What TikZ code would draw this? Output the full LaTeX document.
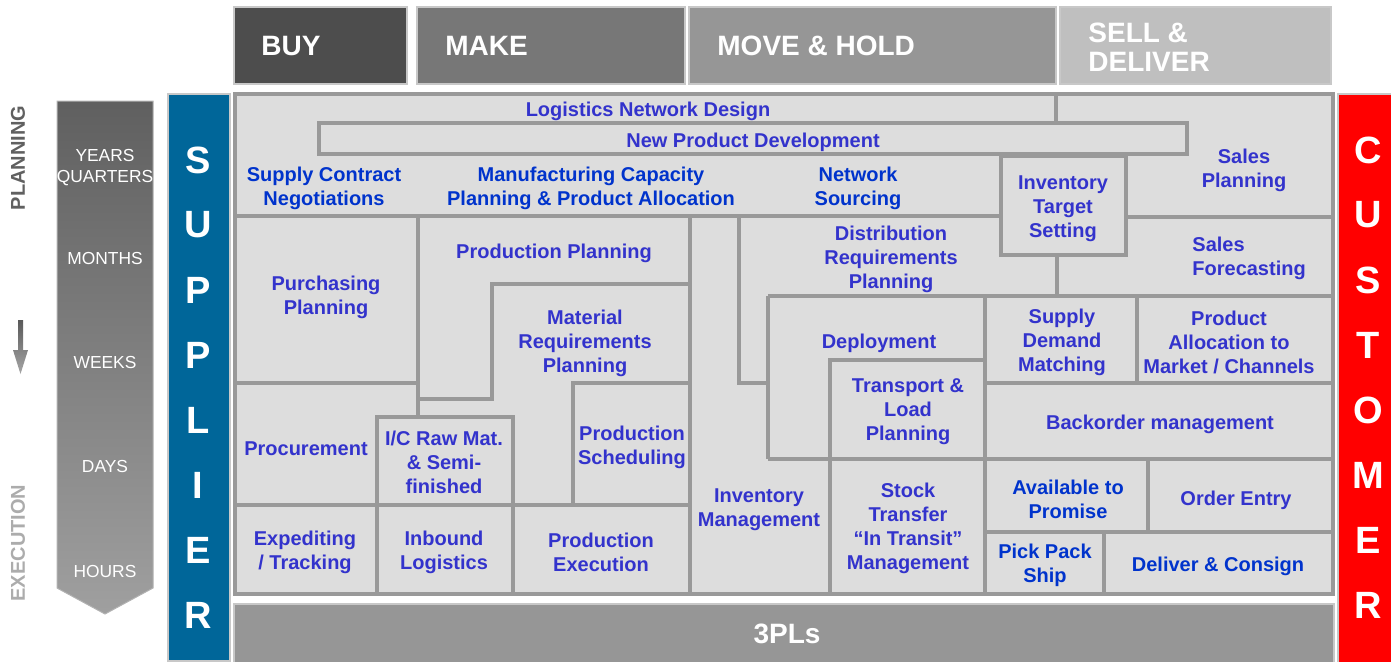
\documentclass[tikz,border=0pt]{standalone}
\usepackage{fontspec}
\setmainfont{Liberation Sans}
\definecolor{gridline}{HTML}{999999}
\definecolor{gridfill}{HTML}{DDDDDD}
\definecolor{txtA}{HTML}{3333CC}
\definecolor{txtB}{HTML}{0033CC}
\definecolor{supblue}{HTML}{006699}
\definecolor{hbuy}{HTML}{4D4D4D}
\definecolor{hmake}{HTML}{777777}
\definecolor{hmove}{HTML}{969696}
\definecolor{hsell}{HTML}{BFBFBF}
\definecolor{plsfill}{HTML}{969696}
\definecolor{lightedge}{HTML}{C8C8C8}
\begin{document}
\begin{tikzpicture}[x=0.5pt,y=-0.5pt,
  lbl/.style={font=\fontsize{10}{12}\selectfont\bfseries, text=txtA, align=center, inner sep=0pt, yshift=-1.25pt},
  lblb/.style={lbl, text=txtB},
  hdr/.style={font=\fontsize{14}{14.5}\selectfont\bfseries, text=white, anchor=west, inner sep=0pt, align=left},
  vletter/.style={font=\fontsize{19}{19}\selectfont\bfseries, text=white, inner sep=0pt},
  tlabel/.style={font=\fontsize{8.7}{10}\selectfont, text=white, inner sep=0pt},
  gline/.style={draw=gridline, line width=1.8pt},
  hbox/.style={draw=lightedge, line width=0.6pt},
  sidelbl/.style={font=\fontsize{10}{12}\selectfont\bfseries, rotate=90, inner sep=0pt}
]
\useasboundingbox (0,0) rectangle (1391,661);

% header boxes
\fill[hbuy, hbox] (234,7) rectangle (407,84);
\fill[hmake, hbox] (417,7) rectangle (685,84);
\fill[hmove, hbox] (689,7) rectangle (1056,84);
\fill[hsell, hbox] (1060,7) rectangle (1331,84);
\node[hdr] (buy) at (261,46) {BUY};
\node[hdr] (make) at (445,46) {MAKE};
\node[hdr] (move) at (717,46) {MOVE \& HOLD};
\node[hdr] (sell) at (1088,47) {SELL \&\\DELIVER};

% left time arrow
\shade[top color=gray!75!black, bottom color=gray!75, draw=gray!60, line width=0.5pt]
  (57,101) -- (153,101) -- (153,588) -- (105,614) -- (57,588) -- cycle;
\node[tlabel] (years) at (105,155) {YEARS};
\node[tlabel] (quarters) at (105,178) {QUARTERS};
\node[tlabel] (months) at (105,258) {MONTHS};
\node[tlabel] (weeks) at (105,362) {WEEKS};
\node[tlabel] (days) at (105,466) {DAYS};
\node[tlabel] (hours) at (105,571) {HOURS};
\node[sidelbl, text=gray!75!black] (planning) at (18,158) {PLANNING};
\node[sidelbl, text=gray!65] (execution) at (18,543) {EXECUTION};
\shade[top color=gray!70!black, bottom color=gray!70]
  (18,320) -- (23,320) -- (23,350) -- (28,350) -- (20.5,374) -- (13,350) -- (18,350) -- cycle;

% supplier / customer bars
\fill[supblue, hbox] (168,94) rectangle (230,661);
\foreach \l [count=\i] in {S,U,P,P,L,I,E,R}
  \node[vletter] (sup\i) at (198,95+65*\i) {\l};
\fill[red, hbox] (1338,94) rectangle (1393,663);
\foreach \l [count=\i] in {C,U,S,T,O,M,E,R}
  \node[vletter] (cus\i) at (1368,85+65*\i) {\l};

% 3PLs bar
\fill[plsfill, hbox] (234,604) rectangle (1334,663);
\node[font=\fontsize{14}{14.5}\selectfont\bfseries, text=white, inner sep=0pt] (tpl) at (787,634) {3PLs};

% main grid
\draw[gline, fill=gridfill] (235,94) rectangle (1333,594);
% top bands
\draw[gline] (319,123) rectangle (1187,154);
\draw[gline] (1056,94) -- (1056,123);
\draw[gline] (235,216) -- (1001,216);
\draw[gline] (1001,156) rectangle (1126,255);
\draw[gline] (1126,217) -- (1333,217);
\draw[gline] (1057,255) -- (1057,296);
\draw[gline] (768,296) -- (1333,296);
% move & hold
\draw[gline] (739,216) -- (739,383) -- (768,383);
\draw[gline] (768,296) -- (768,459);
\draw[gline] (830,360) rectangle (985,459);
\draw[gline] (768,459) -- (1333,459);
\draw[gline] (830,459) -- (830,594);
\draw[gline] (985,296) -- (985,594);
% sell & deliver
\draw[gline] (1137,296) -- (1137,383);
\draw[gline] (985,383) -- (1333,383);
\draw[gline] (985,532) -- (1333,532);
\draw[gline] (1148,459) -- (1148,532);
\draw[gline] (1104,532) -- (1104,594);
% make / buy
\draw[gline] (690,216) -- (690,594);
\draw[gline] (418,216) -- (418,417);
\draw[gline] (235,383) -- (418,383);
\draw[gline] (418,399) -- (492,399) -- (492,284) -- (690,284);
\draw[gline] (377,417) rectangle (513,505);
\draw[gline] (573,383) rectangle (690,505);
\draw[gline] (235,505) -- (690,505);
\draw[gline] (377,505) -- (377,594);
\draw[gline] (513,505) -- (513,594);

% labels
\node[lbl] (lnd) at (648,109) {Logistics Network Design};
\node[lbl] (npd) at (753,140) {New Product Development};
\node[lblb] (scn) at (324,186) {Supply Contract\\Negotiations};
\node[lblb] (mcp) at (591,186) {Manufacturing Capacity\\Planning \& Product Allocation};
\node[lblb] (ns) at (858,186) {Network\\Sourcing};
\node[lbl] (its) at (1063,206) {Inventory\\Target\\Setting};
\node[lbl] (sp) at (1244,168) {Sales\\Planning};
\node[lbl] (pp) at (554,251) {Production Planning};
\node[lbl] (pup) at (326,295) {Purchasing\\Planning};
\node[lbl] (drp) at (891,257) {Distribution\\Requirements\\Planning};
\node[lbl, align=left, anchor=west] (sf) at (1192,256) {Sales\\Forecasting};
\node[lbl] (mrp) at (585,341) {Material\\Requirements\\Planning};
\node[lbl] (dep) at (879,341) {Deployment};
\node[lbl] (sdm) at (1062,340) {Supply\\Demand\\Matching};
\node[lbl] (pa) at (1229,340) {Product\\Allocation to\\Market / Channels};
\node[lbl] (tlp) at (908,409) {Transport \&\\Load\\Planning};
\node[lbl] (proc) at (306,446) {Procurement};
\node[lbl] (ic) at (444,460) {I/C Raw Mat.\\\& Semi-\\finished};
\node[lbl] (ps) at (632,445) {Production\\Scheduling};
\node[lbl] (bo) at (1160,422) {Backorder management};
\node[lbl] (im) at (759,507) {Inventory\\Management};
\node[lbl] (st) at (908,526) {Stock\\Transfer\\“In Transit”\\Management};
\node[lblb] (atp) at (1068,497) {Available to\\Promise};
\node[lbl] (oe) at (1236,498) {Order Entry};
\node[lbl] (et) at (305,550) {Expediting\\/ Tracking};
\node[lbl] (il) at (444,550) {Inbound\\Logistics};
\node[lbl] (pe) at (601,550) {Production\\Execution};
\node[lblb] (pps) at (1045,563) {Pick Pack\\Ship};
\node[lblb] (dc) at (1218,564) {Deliver \& Consign};
\end{tikzpicture}
\end{document}
